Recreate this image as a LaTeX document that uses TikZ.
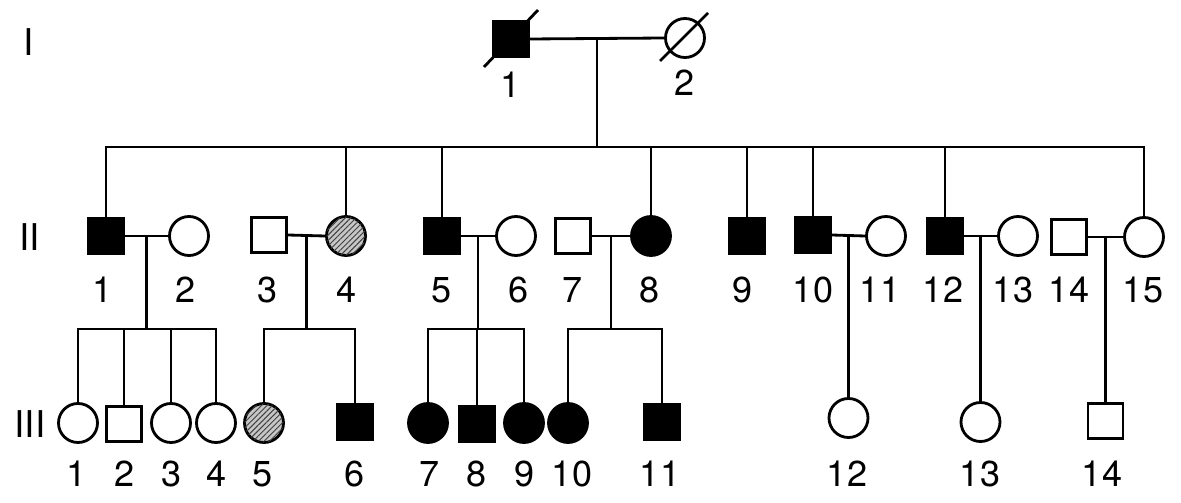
\documentclass[tikz,border=0pt]{standalone}
\usepackage{fontspec}
\setmainfont{TeX Gyre Heros}
\usetikzlibrary{patterns.meta,calc}
\begin{document}
\begin{tikzpicture}[x=0.02cm,y=-0.02cm,line width=1.6pt,
  sq/.style={draw, rectangle, minimum size=0.70cm, inner sep=0pt},
  ci/.style={draw, circle, minimum size=0.78cm, inner sep=0pt},
  aff/.style={fill=black},
  carrier/.style={fill=gray!45, postaction={pattern={Lines[angle=45,distance=2.2pt,line width=0.55pt]}, pattern color=black!75}},
  lab/.style={font=\fontsize{20.5}{24}\selectfont, inner sep=0pt},
  gen/.style={font=\fontsize{21}{24}\selectfont, inner sep=0pt}]
\useasboundingbox (0,0) rectangle (1181,503);
% generation labels
\node[gen] (gI) at (29,42) {I};
\node[gen] (gII) at (30,237) {II};
\node[gen] (gIII) at (30,424) {III};
% Generation I
\node[sq,aff] (I1) at (511,39) {};
\node[ci] (I2) at (685,38) {};
\draw ($(I1.center)+(-27,28)$) -- ($(I1.center)+(27,-29)$);
\draw ($(I2.center)+(-25,23)$) -- ($(I2.center)+(23,-25)$);
\node[lab] (lI1) at (511,85) {1};
\node[lab] (lI2) at (685,83) {2};
\draw (I1.east) -- (I2.west);
\coordinate (f0) at ($(I1.east)!0.5!(I2.west)$);
\coordinate (s0) at (f0 |- 0,147);
\draw (f0) -- (s0);
% Generation II
\node[sq,aff] (II1) at (106,236) {};
\node[ci] (II2) at (189,236) {};
\node[sq] (II3) at (269,235) {};
\node[ci,carrier] (II4) at (346,236) {};
\node[sq,aff] (II5) at (442,236) {};
\node[ci] (II6) at (516,236) {};
\node[sq] (II7) at (573,236) {};
\node[ci,aff] (II8) at (651,236) {};
\node[sq,aff] (II9) at (747,236) {};
\node[sq,aff] (II10) at (813,235) {};
\node[ci] (II11) at (886,236) {};
\node[sq,aff] (II12) at (945,236) {};
\node[ci] (II13) at (1018,236) {};
\node[sq] (II14) at (1069,237) {};
\node[ci] (II15) at (1144,237) {};
\foreach \n/\x in {1/103,2/186,3/268,4/347,5/442,6/519,7/573,8/650,9/743,10/813,11/880,12/943,13/1013,14/1069,15/1143}
  \node[lab] (lII\n) at (\x,290) {\n};
\foreach \c in {II1,II4,II5,II8,II9,II10,II12,II15}
  \draw (\c.north) |- (s0);
% couples in generation II
\foreach \a/\b/\k in {II1/II2/1,II3/II4/2,II5/II6/3,II7/II8/4,II10/II11/5,II12/II13/6,II14/II15/7}{
  \draw (\a.east) -- (\b.west);
  \coordinate (f\k) at ($(\a.east)!0.5!(\b.west)$);
}
\foreach \k in {1,2,3,4}{
  \coordinate (s\k) at (f\k |- 0,329);
  \draw (f\k) -- (s\k);
}
% Generation III
\node[ci] (III1) at (78,423) {};
\node[sq] (III2) at (124,424) {};
\node[ci] (III3) at (171,423) {};
\node[ci] (III4) at (216,423) {};
\node[ci,carrier] (III5) at (264,423) {};
\node[sq,aff] (III6) at (355,422) {};
\node[ci,aff] (III7) at (428,423) {};
\node[sq,aff] (III8) at (477,424) {};
\node[ci,aff] (III9) at (524,423) {};
\node[ci,aff] (III10) at (568,423) {};
\node[sq,aff] (III11) at (662,422) {};
\node[ci] (III12) at (f5 |- 0,418) {};
\node[ci] (III13) at (f6 |- 0,422) {};
\node[sq] (III14) at (f7 |- 0,421) {};
\foreach \n/\x in {1/77,2/125,3/172,4/217,5/263,6/355,7/430,8/477,9/525,10/572,11/660,12/847,13/980,14/1102}
  \node[lab] (lIII\n) at (\x,474) {\n};
\foreach \c in {III1,III2,III3,III4} \draw (\c.north) |- (s1);
\foreach \c in {III5,III6} \draw (\c.north) |- (s2);
\foreach \c in {III7,III8,III9} \draw (\c.north) |- (s3);
\foreach \c in {III10,III11} \draw (\c.north) |- (s4);
\draw (f5) -- (III12.north);
\draw (f6) -- (III13.north);
\draw (f7) -- (III14.north);
\end{tikzpicture}
\end{document}
